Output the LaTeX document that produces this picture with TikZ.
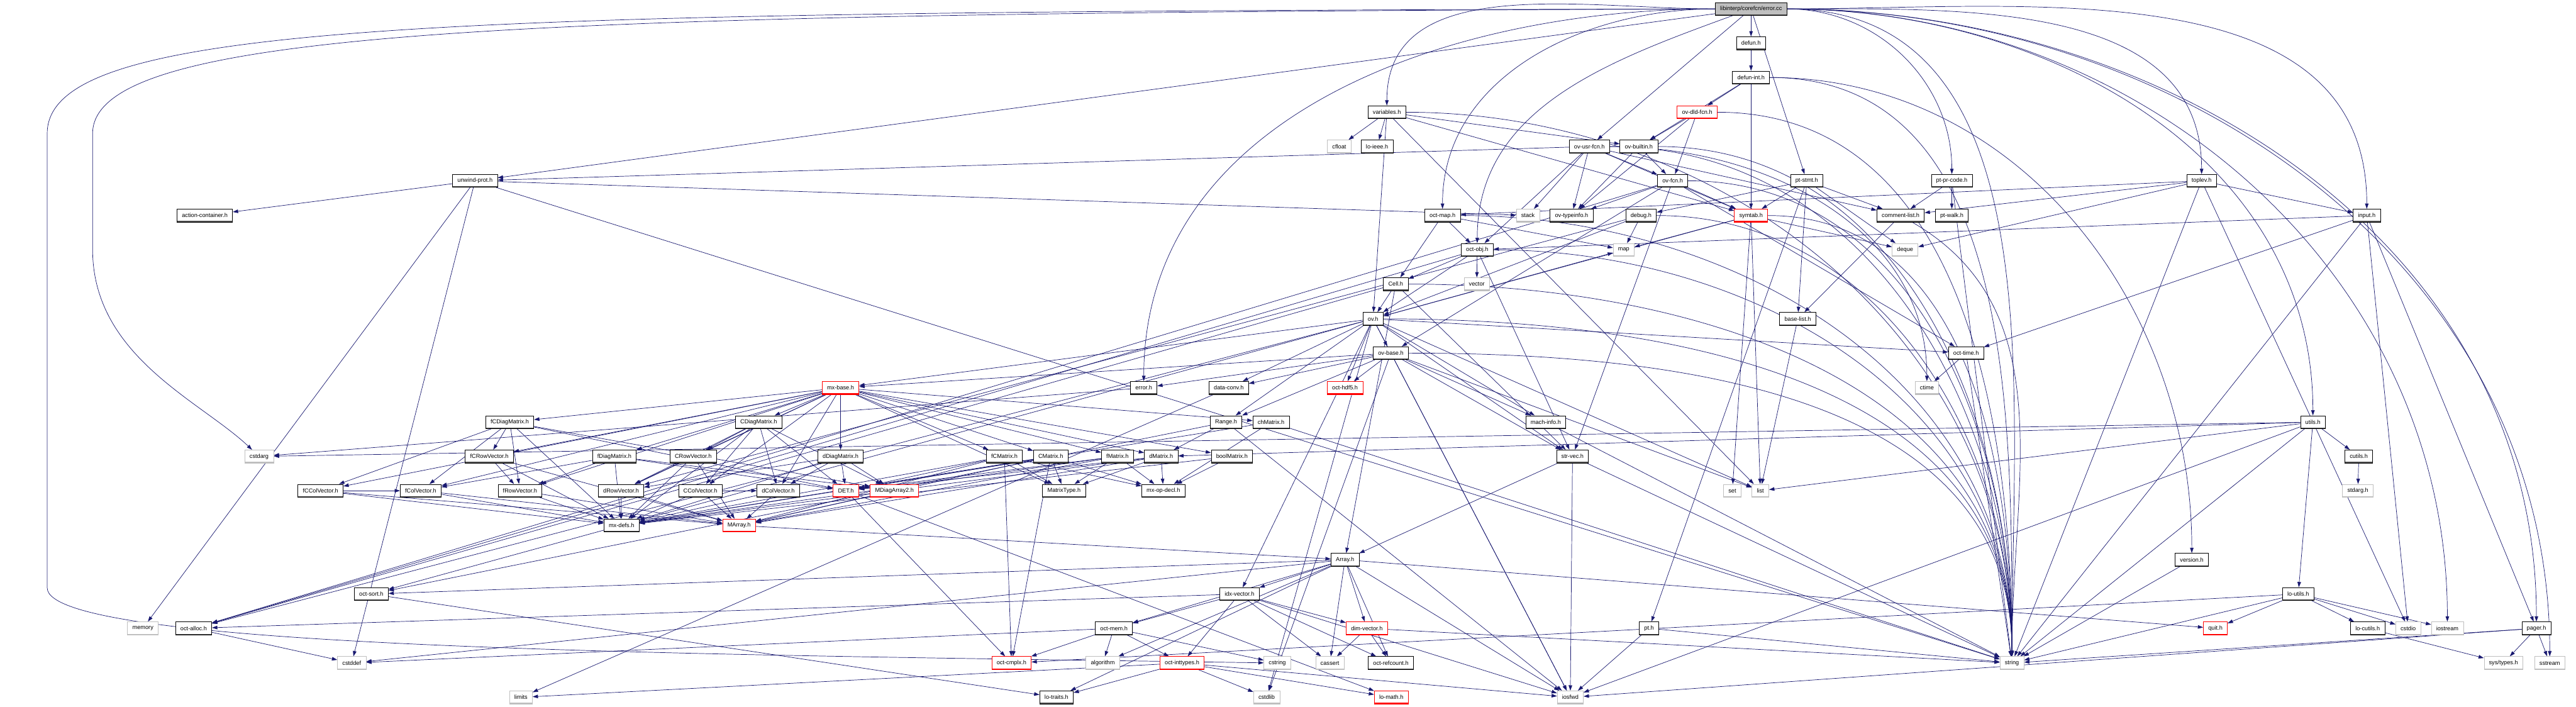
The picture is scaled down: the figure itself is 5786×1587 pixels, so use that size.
\documentclass[tikz,border=0pt]{standalone}
\usepackage{fontspec}
\setmainfont{Liberation Sans}
\usetikzlibrary{arrows.meta}
\definecolor{edgeblue}{RGB}{25,25,112}
\definecolor{grey75}{RGB}{191,191,191}
\pgfdeclarelayer{background}
\pgfsetlayers{background,main}
\newcommand{\bottomedge}[1]{\fill[#1] (path picture bounding box.south west) rectangle ([yshift=1.1pt]path picture bounding box.south east);}
\tikzset{
  incfile/.style={fill=white, line width=0.5pt, inner xsep=5.5pt, inner ysep=0pt, minimum height=14.5pt, font=\fontsize{6.5}{7}\selectfont},
  file/.style={incfile, draw=black, path picture={\bottomedge{black!70}}},
  sysfile/.style={incfile, draw=grey75, path picture={\bottomedge{grey75}}},
  trunc/.style={incfile, draw=red, path picture={\bottomedge{red}}},
  mainfile/.style={incfile, draw=black, fill=grey75, path picture={\bottomedge{black!70}}},
  inc/.style={draw=edgeblue, line width=0.5pt, -{Triangle[length=6pt,width=4pt]}}
}
\begin{document}
\begin{tikzpicture}[x=0.5pt,y=-0.5pt]
\useasboundingbox (0,0) rectangle (5786,1587);
% the file itself
\node[mainfile] (errorcc) at (3933,20) {libinterp/corefcn/error.cc};
% project headers
\foreach \n/\x/\y/\t in {defunh/3933/97/defun.h, defunint/3933/174/defun-int.h, variablesh/3115/252/variables.h,
  loieee/3093/329/lo-ieee.h, ovusrfcn/3570/329/ov-usr-fcn.h, ovbuiltin/3681/329/ov-builtin.h,
  ovfcn/3757/406/ov-fcn.h, ptstmt/4058/406/pt-stmt.h, ptprcode/4384/406/pt-pr-code.h, toplev/4945/406/toplev.h,
  unwindprot/1067/406/unwind-prot.h, actioncont/460/484/action-container.h, octmap/3240/484/oct-map.h,
  ovtypeinfo/3530/484/ov-typeinfo.h, debugh/3686/484/debug.h, commentlist/4269/484/comment-list.h,
  ptwalk/4384/484/pt-walk.h, inputh/5316/484/input.h, octobj/3318/561/oct-obj.h, cellh/3135/638/Cell.h,
  ovh/3084/716/ov.h, baselist/4038/716/base-list.h, ovbase/3124/793/ov-base.h, octtime/4416/793/oct-time.h,
  errorh/2569/871/error.h, dataconv/2760/871/data-conv.h, fCDiag/1145/948/fCDiagMatrix.h,
  CDiag/1704/948/CDiagMatrix.h, rangeh/2754/948/Range.h, chMatrix/2855/948/chMatrix.h,
  machinfo/3472/948/mach-info.h, utilsh/5195/948/utils.h, fCRowVec/1099/1025/fCRowVector.h,
  fDiag/1380/1025/fDiagMatrix.h, CRowVec/1557/1025/CRowVector.h, dDiag/1888/1025/dDiagMatrix.h,
  fCMatrix/2256/1025/fCMatrix.h, CMatrix/2360/1025/CMatrix.h, fMatrix/2510/1025/fMatrix.h,
  dMatrix/2608/1025/dMatrix.h, boolMatrix/2767/1025/boolMatrix.h, strvec/3532/1025/str-vec.h,
  cutils/5298/1025/cutils.h, fCColVec/720/1102/fCColVector.h, fColVec/945/1102/fColVector.h,
  fRowVec/1168/1102/fRowVector.h, dRowVec/1395/1102/dRowVector.h, CColVec/1573/1102/CColVector.h,
  dColVec/1748/1102/dColVector.h, MatrixType/2390/1102/MatrixType.h, mxopdecl/2613/1102/mx-op-decl.h,
  mxdefs/1396/1180/mx-defs.h, Arrayh/3021/1257/Array.h, versionh/4923/1257/version.h,
  octsort/834/1334/oct-sort.h, idxvector/2784/1334/idx-vector.h, loutils/5162/1334/lo-utils.h,
  octalloc/435/1411/oct-alloc.h, octmem/2502/1411/oct-mem.h, pth/3704/1411/pt.h,
  locutils/5318/1411/lo-cutils.h, pager/5697/1411/pager.h, octrefcount/3124/1489/oct-refcount.h,
  lotraits/2373/1566/lo-traits.h}
  \node[file] (\n) at (\x,\y) {\t};
% headers whose graph is cut off
\foreach \n/\x/\y/\t in {ovdldfcn/3812/252/ov-dld-fcn.h, symtab/3933/484/symtab.h, mxbase/1888/871/mx-base.h,
  octhdf5/3021/871/oct-hdf5.h, DETh/1900/1102/DET.h, MDiagArray2/2009/1102/MDiagArray2.h,
  MArray/1660/1180/MArray.h, dimvector/3070/1411/dim-vector.h, quith/4976/1411/quit.h,
  octcmplx/2272/1489/oct-cmplx.h, octinttypes/2655/1489/oct-inttypes.h, lomath/3125/1566/lo-math.h}
  \node[trunc] (\n) at (\x,\y) {\t};
% system headers
\foreach \n/\x/\y/\t in {cfloat/3008/329/cfloat, stack/3432/484/stack, map/3647/561/map, deque/4279/561/deque,
  vector/3317/638/vector, ctime/4328/871/ctime, cstdarg/582/1025/cstdarg, seth/3891/1102/set,
  listh/3954/1102/list, stdargh/5296/1102/stdarg.h, memory/321/1411/memory, cstdio/5409/1411/cstdio,
  iostream/5497/1411/iostream, cstddef/790/1489/cstddef, algorithm/2477/1489/algorithm,
  cstring/2869/1489/cstring, cassert/2987/1489/cassert, stringh/4519/1489/string,
  sstream/5727/1489/sstream, limits/1170/1566/limits, cstdlib/2845/1566/cstdlib, iosfwd/3527/1566/iosfwd}
  \node[sysfile] (\n) at (\x,\y) {\t};
\node[sysfile] (systypes) at (5623,1489) {sys/types.h};
% include edges
\begin{pgfonlayer}{background}
% long ones, bent like the dot splines
\foreach \s/\t/\o in {errorcc/variablesh/180, errorcc/octmap/180, errorcc/octobj/200, errorcc/errorh/180,
  errorcc/ptprcode/0, errorcc/toplev/0, errorcc/inputh/0, errorcc/utilsh/0, errorcc/pager/0,
  errorcc/sstream/0, errorcc/iostream/0, errorcc/stringh/0, defunint/versionh/0, defunint/stringh/0,
  ovdldfcn/stringh/0, variablesh/stringh/0, ovusrfcn/stringh/0, ovusrfcn/ctime/0, ovbuiltin/stringh/0,
  ovfcn/stringh/0, octmap/stringh/0, octobj/stringh/0, cellh/stringh/0, ovh/stringh/0, ovbase/stringh/0,
  symtab/stringh/0, debugh/stringh/0, commentlist/stringh/-30}
  \draw[inc] (\s) to[out=\o,in=90] (\t);
\draw[inc] (errorcc.west) .. controls (1200,30) and (208,60) .. (208,300) -- (208,560)
  .. controls (208,800) and (450,900) .. (cstdarg);
\draw[inc] (errorcc.west) .. controls (1000,26) and (106,45) .. (106,300) -- (106,1320)
  .. controls (106,1460) and (1600,1470) .. (cstring);
% the rest
\foreach \s/\tl in {
  errorcc/{defunh,ovusrfcn,ptstmt,unwindprot},
  defunh/{defunint},
  defunint/{ovdldfcn,ovbuiltin,symtab},
  ovdldfcn/{ovbuiltin,ovfcn,ovtypeinfo},
  variablesh/{cfloat,loieee,ovbuiltin,symtab,ovh,listh},
  ovusrfcn/{ovfcn,ovtypeinfo,stack,symtab,commentlist,octobj,unwindprot},
  ovbuiltin/{ovfcn,ovtypeinfo},
  ovfcn/{octtime,octalloc,strvec,ovbase,symtab,ovtypeinfo},
  ptstmt/{debugh,symtab,commentlist,baselist,pth,deque},
  ptprcode/{commentlist,ptwalk,stringh},
  toplev/{cstdio,deque,stringh,inputh,commentlist,octmap},
  inputh/{cstdio,stringh,octtime,octobj,pager},
  pager/{iosfwd,sstream,stringh,systypes},
  utilsh/{cstdarg,iosfwd,stringh,listh,dMatrix,loutils,cutils},
  cutils/{stdargh},
  loutils/{cstdio,iostream,stringh,octcmplx,locutils,quith},
  locutils/{systypes},
  versionh/{stringh},
  unwindprot/{cstddef,stringh,stack,memory,actioncont},
  octmap/{map,cellh,octobj},
  octobj/{vector,octalloc,strvec,cellh,ovh},
  cellh/{Arrayh,octalloc,strvec,ovh},
  ovh/{cstdlib,iosfwd,listh,map,rangeh,dataconv,idxvector,machinfo,mxbase,octalloc,octtime,strvec,octhdf5,octsort,ovbase},
  ovbase/{cstdlib,iosfwd,listh,rangeh,dataconv,mxbase,strvec,errorh,octhdf5,machinfo},
  debugh/{map,ovh,dRowVec},
  symtab/{deque,listh,map,seth,ovh},
  commentlist/{baselist},
  baselist/{listh},
  octtime/{ctime,stringh},
  strvec/{iosfwd,stringh,Arrayh},
  machinfo/{stringh},
  dataconv/{limits},
  errorh/{cstdarg},
  rangeh/{iosfwd,dMatrix,octsort},
  chMatrix/{stringh,mxdefs,mxopdecl},
  boolMatrix/{mxdefs,mxopdecl},
  mxbase/{MatrixType,dMatrix,CMatrix,fMatrix,fCMatrix,boolMatrix,chMatrix,dColVec,CColVec,fColVec,fCColVec,dRowVec,CRowVec,fRowVec,fCRowVec,dDiag,CDiag,fDiag,fCDiag},
  CDiag/{MDiagArray2,dRowVec,CRowVec,dColVec,CColVec,DETh,mxdefs},
  fCDiag/{MDiagArray2,fRowVec,fCRowVec,fColVec,fCColVec,DETh,mxdefs},
  dDiag/{MDiagArray2,dRowVec,dColVec,DETh,mxdefs},
  fDiag/{MDiagArray2,fRowVec,fColVec,DETh,mxdefs},
  dMatrix/{mxdefs,mxopdecl,DETh,MatrixType,MArray},
  CMatrix/{mxdefs,mxopdecl,octcmplx,DETh,MatrixType,MArray},
  fMatrix/{mxdefs,mxopdecl,DETh,MatrixType,MArray},
  fCMatrix/{mxdefs,mxopdecl,octcmplx,DETh,MatrixType,MArray},
  CRowVec/{MArray,dRowVec,mxdefs},
  fCRowVec/{MArray,fRowVec,mxdefs},
  dRowVec/{MArray,mxdefs},
  fRowVec/{MArray,mxdefs},
  CColVec/{MArray,dColVec,mxdefs},
  dColVec/{MArray,mxdefs},
  fCColVec/{MArray,fColVec,mxdefs},
  fColVec/{MArray,mxdefs},
  DETh/{octcmplx,lomath},
  MDiagArray2/{MArray},
  MArray/{Arrayh},
  Arrayh/{cassert,cstddef,algorithm,iosfwd,dimvector,idxvector,lotraits,octrefcount,octsort,quith,octmem},
  dimvector/{cassert,stringh,octrefcount},
  idxvector/{cassert,iosfwd,dimvector,octinttypes,octalloc,octmem,octrefcount},
  octmem/{cstddef,cstring,algorithm,octcmplx,octinttypes},
  octinttypes/{limits,cstdlib,iosfwd,lotraits,lomath},
  octsort/{lotraits},
  octalloc/{cstddef},
  pth/{stringh,iosfwd}}
  \foreach \t in \tl \draw[inc] (\s) -- (\t);
\end{pgfonlayer}
\end{tikzpicture}
\end{document}
